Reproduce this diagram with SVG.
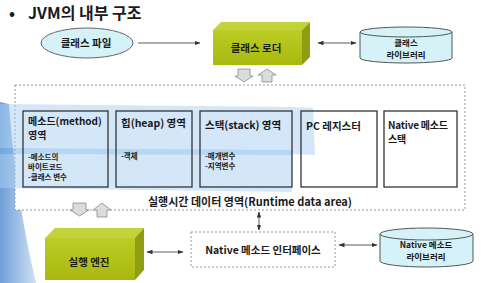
<svg xmlns="http://www.w3.org/2000/svg" width="483" height="283" viewBox="0 0 483 283">
<style>
.t{font-family:"Noto Sans CJK KR","Noto Sans",sans-serif;fill:#1a1a1a;font-weight:bold}
.box{fill:none;stroke:#333;stroke-width:1.3}
.dash{fill:#fff;stroke:#999;stroke-width:1;stroke-dasharray:2,2}
.cy{fill:#d4f2f7;stroke:#555;stroke-width:1}
.ln{stroke:#333;stroke-width:0.8;fill:none}
.front{fill:url(#gf)}
.top{fill:#c2d23a}
.side{fill:#8e9d12}
.blk{fill:#dcdcdc;stroke:#8a8a8a;stroke-width:0.8}
</style>
<defs>
<linearGradient id="gf" x1="0" y1="0" x2="0" y2="1"><stop offset="0" stop-color="#bccd26"/><stop offset="1" stop-color="#a8b80e"/></linearGradient>
<linearGradient id="sw" x1="0" y1="0" x2="1" y2="0"><stop offset="0" stop-color="#6f9ed6"/><stop offset="1" stop-color="#cfe2f4"/></linearGradient>
<marker id="ah" viewBox="0 0 6 6" refX="5.5" refY="3" markerWidth="6" markerHeight="6" orient="auto-start-reverse" markerUnits="userSpaceOnUse"><path d="M0,0.8 L6,3 L0,5.2 Z" fill="#333"/></marker>
</defs>
<rect width="483" height="283" fill="#fff"/>
<path d="M0,102 L9,104 Q16,200 36,283 L0,283 Z" fill="url(#sw)"/>
<text class="t" x="9" y="19" font-size="16">•</text>
<text class="t" x="28" y="19" font-size="16">JVM의 내부 구조</text>

<g id="runtime-area">
<rect class="dash" x="15" y="85" width="450" height="125"/>
<text class="t" x="250" y="206" font-size="11" text-anchor="middle">실행시간 데이터 영역(Runtime data area)</text>
</g>
<g id="highlight" opacity="0.5">
<path d="M0,104 L292,107 L313,108 L315,155 L292,154 L292,192 L0,188 Z" fill="#a9d0f2"/>
<path d="M0,148 L292,150 L292,155 L0,154 Z" fill="#6fb0ea"/>
</g>
<g id="method-area">
<rect class="box" x="23" y="111" width="85" height="76"/>
<text class="t" font-size="10"><tspan x="28" y="125">메소드(method)</tspan><tspan x="28" y="139">영역</tspan></text>
<text class="t" font-size="7.5"><tspan x="28" y="160">-메소드의</tspan><tspan x="28" y="170">바이트코드</tspan><tspan x="28" y="180">-클래스 변수</tspan></text>
</g>
<g id="heap-area">
<rect class="box" x="116" y="111" width="76" height="76"/>
<text class="t" x="121" y="127" font-size="10.5">힙(heap) 영역</text>
<text class="t" x="121" y="159" font-size="7.5">-객체</text>
</g>
<g id="stack-area">
<rect class="box" x="200" y="111" width="92" height="76"/>
<text class="t" x="205" y="129" font-size="10.5">스택(stack) 영역</text>
<text class="t" font-size="7.5"><tspan x="205" y="159">-매개변수</tspan><tspan x="205" y="169">-지역변수</tspan></text>
</g>
<g id="pc-register">
<rect class="box" x="301" y="111" width="76" height="76"/>
<text class="t" x="306" y="130" font-size="10.5">PC 레지스터</text>
</g>
<g id="native-stack">
<rect class="box" x="384" y="111" width="73" height="76"/>
<text class="t" font-size="10" letter-spacing="-0.2"><tspan x="388" y="129">Native 메소드</tspan><tspan x="388" y="143">스택</tspan></text>
</g>

<g id="class-file">
<ellipse cx="87" cy="43" rx="46" ry="15" fill="#d4f2f7" stroke="#666" stroke-width="1"/>
<text class="t" x="86" y="47" font-size="10.5" text-anchor="middle">클래스 파일</text>
</g>
<g id="class-loader">
<path class="top" d="M213,30 L221,22 L310,22 L302,30 Z"/>
<path class="side" d="M302,30 L310,22 L310,57 L302,65 Z"/>
<rect class="front" x="213" y="30" width="89" height="35"/>
<text class="t" x="256" y="52" font-size="10.5" text-anchor="middle">클래스 로더</text>
</g>
<g id="class-library">
<path class="cy" d="M360,32 L360,58 A46,5 0 0 0 452,58 L452,32"/>
<ellipse class="cy" cx="406" cy="32" rx="46" ry="5"/>
<text class="t" font-size="8.5" text-anchor="middle"><tspan x="406" y="46">클래스</tspan><tspan x="406" y="58">라이브러리</tspan></text>
</g>
<g id="exec-engine">
<path class="top" d="M45,238 L55,228 L144,228 L135,238 Z"/>
<path class="side" d="M135,238 L144,228 L144,270 L135,280 Z"/>
<rect class="front" x="45" y="238" width="90" height="42"/>
<text class="t" x="89" y="266" font-size="10.5" text-anchor="middle">실행 엔진</text>
</g>
<g id="native-interface">
<rect class="dash" x="191" y="232" width="144" height="35"/>
<text class="t" x="263" y="254" font-size="10.5" text-anchor="middle">Native 메소드 인터페이스</text>
</g>
<g id="native-library">
<path class="cy" d="M380,234 L380,261 A46.5,6 0 0 0 473,261 L473,234"/>
<ellipse class="cy" cx="426.5" cy="234" rx="46.5" ry="6"/>
<text class="t" font-size="8.5" text-anchor="middle"><tspan x="426" y="248">Native 메소드</tspan><tspan x="426" y="260">라이브러리</tspan></text>
</g>

<g id="connectors">
<line class="ln" x1="138" y1="43" x2="200" y2="43" marker-end="url(#ah)"/>
<line class="ln" x1="318" y1="43" x2="356" y2="43" marker-start="url(#ah)" marker-end="url(#ah)"/>
<line class="ln" x1="147" y1="252" x2="183" y2="252" marker-start="url(#ah)" marker-end="url(#ah)"/>
<line class="ln" x1="339" y1="245" x2="377" y2="245" marker-start="url(#ah)" marker-end="url(#ah)"/>
<line class="ln" x1="259" y1="212" x2="259" y2="230" marker-start="url(#ah)" marker-end="url(#ah)"/>
<path class="blk" d="M238,69 L250,69 L250,76 L253,76 L244,82 L235,76 L238,76 Z"/>
<path class="blk" d="M262,82 L272,82 L272,75 L276,75 L267,69 L258,75 L262,75 Z"/>
<path class="blk" d="M73,203 L86,203 L86,210 L89,210 L79.5,216 L70,210 L73,210 Z"/>
<path class="blk" d="M97,217 L107,217 L107,210 L111,210 L102,203 L93,210 L97,210 Z"/>
</g>
</svg>
